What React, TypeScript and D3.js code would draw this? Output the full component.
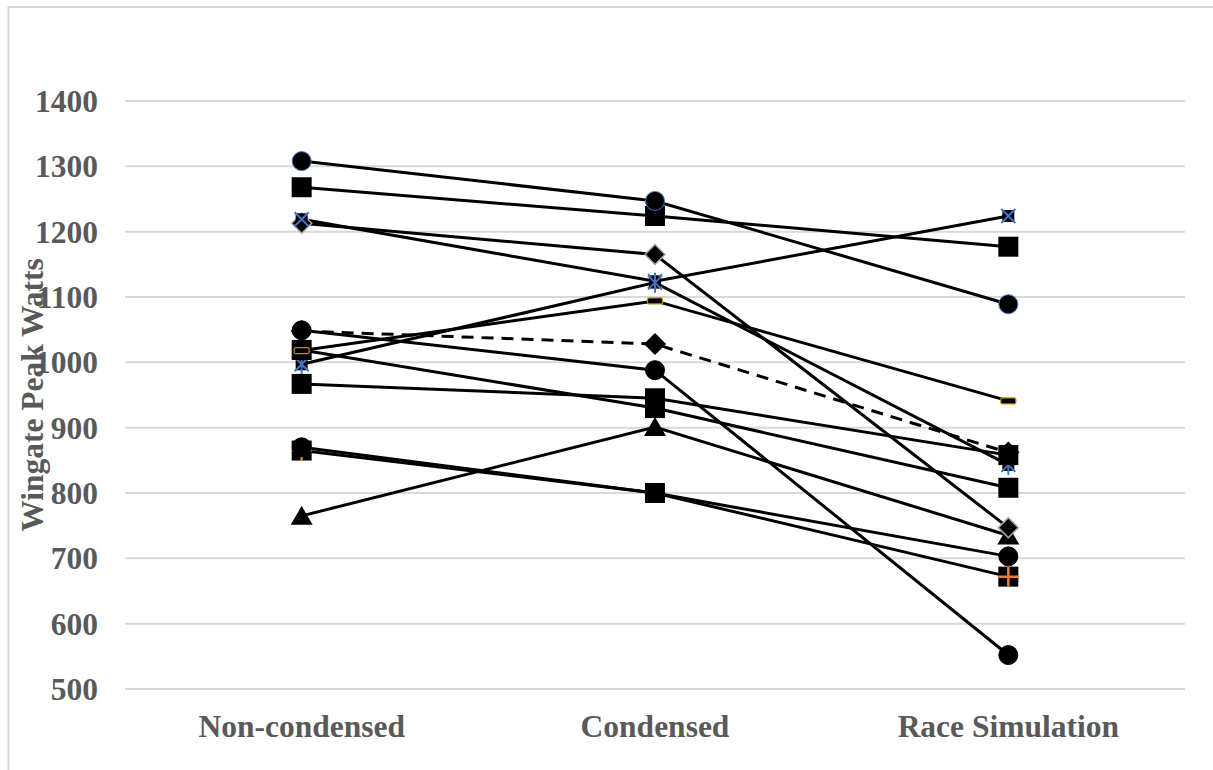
import * as d3 from 'd3';
import { useEffect, useRef } from 'react';

const WIDTH = 1213;
const HEIGHT = 770;

const categories = ['Non-condensed', 'Condensed', 'Race Simulation'];
const yTicks = [500, 600, 700, 800, 900, 1000, 1100, 1200, 1300, 1400];

// one array per subject
const circleTop = [1308, 1247, 1089];
const squareTop = [1268, 1224, 1177];
const crossHigh = [1219, 1124, 1224];
const diamondGray = [1213, 1165, 747];
const starMid = [997, 1122, 843];
const dashGold = [1018, 1094, 941];
const meanDashed = [1048, 1028, 862];
const circleDrop = [1049, 988, 552];
const squareMid = [967, 945, 858];
const squareLow = [1019, 930, 808];
const plusLow = [865, 800, 672];
const circleLow = [870, 800, 703];
const triangleLow = [765, 901, 735];

type Marker = 'circle' | 'square' | 'x' | 'diamond' | 'star' | 'dash' | 'triangle' | 'plus';

// draw order: later entries sit on top
const series: { values: number[]; marker: Marker; stroke: string; dashed?: boolean }[] = [
    { values: triangleLow, marker: 'triangle', stroke: '#000' },
    { values: diamondGray, marker: 'diamond', stroke: '#a5a5a5' },
    { values: crossHigh, marker: 'x', stroke: '#4472c4' },
    { values: starMid, marker: 'star', stroke: '#4472c4' },
    { values: squareTop, marker: 'square', stroke: '#000' },
    { values: squareMid, marker: 'square', stroke: '#000' },
    { values: squareLow, marker: 'square', stroke: '#000' },
    { values: plusLow, marker: 'plus', stroke: '#ed7d31' },
    { values: dashGold, marker: 'dash', stroke: '#bf9000' },
    { values: meanDashed, marker: 'diamond', stroke: '#000', dashed: true },
    { values: circleTop, marker: 'circle', stroke: '#4472c4' },
    { values: circleDrop, marker: 'circle', stroke: '#000' },
    { values: circleLow, marker: 'circle', stroke: '#000' },
];

const FONT = '"Liberation Serif", "Times New Roman", serif';
const TEXT_COLOR = '#595959';

function drawMarker(
    g: d3.Selection<SVGGElement, unknown, null, undefined>,
    kind: Marker,
    stroke: string,
) {
    if (kind === 'circle') {
        g.append('circle').attr('r', 9.5).attr('fill', '#000').attr('stroke', stroke).attr('stroke-width', 1);
    } else if (kind === 'square') {
        g.append('rect').attr('x', -10).attr('y', -10).attr('width', 20).attr('height', 20).attr('fill', '#000');
    } else if (kind === 'triangle') {
        g.append('path').attr('d', 'M0,-10L11,9L-11,9Z').attr('fill', '#000');
    } else if (kind === 'diamond') {
        g.append('path')
            .attr('d', 'M0,-10L10,0L0,10L-10,0Z')
            .attr('fill', '#000')
            .attr('stroke', stroke)
            .attr('stroke-width', 1.5);
    } else if (kind === 'x' || kind === 'star') {
        g.append('rect').attr('x', -6).attr('y', -6).attr('width', 12).attr('height', 12).attr('fill', '#000');
        const d = kind === 'x' ? 'M-7,-7L7,7M-7,7L7,-7' : 'M-7,-7L7,7M-7,7L7,-7M0,-10L0,10';
        g.append('path').attr('d', d).attr('stroke', stroke).attr('stroke-width', 2).attr('fill', 'none');
    } else if (kind === 'plus') {
        g.append('rect').attr('x', -10).attr('y', -10).attr('width', 20).attr('height', 20).attr('fill', '#000');
        g.append('path').attr('d', 'M-10,0L10,0M0,-10L0,10').attr('stroke', stroke).attr('stroke-width', 2.5);
    } else if (kind === 'dash') {
        g.append('rect')
            .attr('x', -7.5)
            .attr('y', -3)
            .attr('width', 15)
            .attr('height', 6)
            .attr('rx', 1.5)
            .attr('fill', '#000')
            .attr('stroke', stroke)
            .attr('stroke-width', 1.2);
    }
}

export default function App() {
    const svgRef = useRef<SVGSVGElement | null>(null);

    useEffect(() => {
        if (!svgRef.current) {
            return;
        }
        const svg = d3.select(svgRef.current);
        svg.selectAll('*').remove();

        const x = d3.scaleBand<string>().domain(categories).range([125, 1185]).padding(0);
        const cx = (c: string) => (x(c) ?? 0) + x.bandwidth() / 2;
        const y = d3.scaleLinear().domain([500, 1400]).range([689, 101]);

        svg.append('rect')
            .attr('width', WIDTH)
            .attr('height', HEIGHT)
            .attr('fill', '#fff');

        svg.append('rect')
            .attr('x', 8.5)
            .attr('y', 7)
            .attr('width', WIDTH)
            .attr('height', HEIGHT)
            .attr('fill', 'none')
            .attr('stroke', '#d9d9d9')
            .attr('stroke-width', 2);

        // gridlines
        svg.append('g')
            .selectAll('line')
            .data(yTicks)
            .join('line')
            .attr('x1', 125)
            .attr('x2', 1185)
            .attr('y1', (d) => y(d))
            .attr('y2', (d) => y(d))
            .attr('stroke', '#d9d9d9')
            .attr('stroke-width', 2);

        svg.append('g')
            .selectAll('text')
            .data(yTicks)
            .join('text')
            .attr('x', 98)
            .attr('y', (d) => y(d) + 11)
            .attr('text-anchor', 'end')
            .attr('font-family', FONT)
            .attr('font-weight', 700)
            .attr('font-size', 31.5)
            .attr('fill', TEXT_COLOR)
            .text((d) => String(d));

        svg.append('g')
            .selectAll('text')
            .data(categories)
            .join('text')
            .attr('x', (d) => cx(d))
            .attr('y', 737)
            .attr('text-anchor', 'middle')
            .attr('font-family', FONT)
            .attr('font-weight', 700)
            .attr('font-size', 31.5)
            .attr('fill', TEXT_COLOR)
            .text((d) => d);

        svg.append('text')
            .attr('transform', 'translate(43,395) rotate(-90)')
            .attr('text-anchor', 'middle')
            .attr('font-family', FONT)
            .attr('font-weight', 700)
            .attr('font-size', 31.5)
            .attr('fill', TEXT_COLOR)
            .text('Wingate Peak Watts');

        const line = d3
            .line<number>()
            .x((_, i) => cx(categories[i]))
            .y((d) => y(d));

        const lines = svg.append('g');
        series.forEach((s) => {
            lines
                .append('path')
                .attr('d', line(s.values) ?? '')
                .attr('fill', 'none')
                .attr('stroke', '#000')
                .attr('stroke-width', 3)
                .attr('stroke-dasharray', s.dashed ? '12,8' : null);
        });

        const markers = svg.append('g');
        series.forEach((s) => {
            s.values.forEach((v, i) => {
                const g = markers.append('g').attr('transform', `translate(${cx(categories[i])},${y(v)})`);
                drawMarker(g, s.marker, s.stroke);
            });
        });
    }, []);

    return (
        <svg
            ref={svgRef}
            width={WIDTH}
            height={HEIGHT}
            style={{ position: 'absolute', left: 0, top: 0, display: 'block' }}
        />
    );
}
